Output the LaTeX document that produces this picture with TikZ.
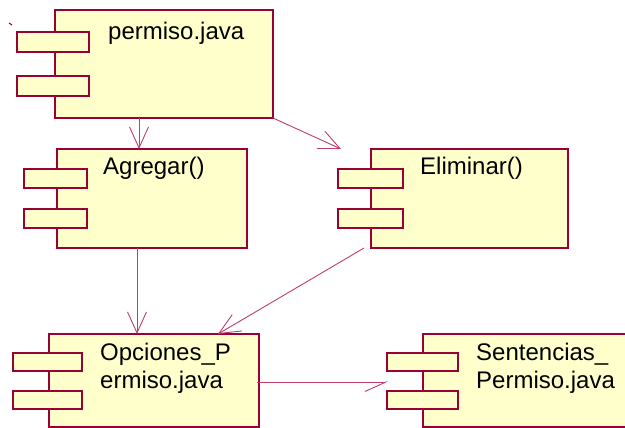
\documentclass[tikz,border=0pt]{standalone}
\usepackage{fontspec}
\setmainfont{Liberation Sans}
\usetikzlibrary{arrows.meta,positioning}
\definecolor{roseborder}{RGB}{153,0,51}
\definecolor{roseline}{RGB}{190,60,110}
\definecolor{rosefill}{RGB}{255,255,204}

\begin{document}
\begin{tikzpicture}[x=1pt, y=-1pt,
        comp/.style={rectangle, draw=roseborder, fill=rosefill, line width=1.6pt,
            inner sep=0pt, outer sep=0pt, anchor=north west},
        tab/.style={comp, minimum width=#1, minimum height=19pt},
        lbl/.style={font=\fontsize{24}{28}\selectfont, inner sep=0pt,
            anchor=base west, align=left},
        dep/.style={draw=roseline, line width=0.9pt,
            -{Straight Barb[length=21pt,width=19pt]}}
    ]
        \useasboundingbox (0,0) rectangle (625,428);
        \clip (0,0) rectangle (625,428);

        % permiso.java
        \node[comp, minimum width=218pt, minimum height=108pt] (permiso) at (55,10) {};
        \node[tab=72pt, minimum height=20pt] (permisoA) at (17,32) {};
        \node[tab=72pt, minimum height=20pt] (permisoB) at (17,76) {};
        \node[lbl] (permisoT) at (108,40) {permiso.java};
        \draw[roseborder, line width=1pt] (9,23) -- (12,25);

        % Agregar()
        \node[comp, minimum width=190pt, minimum height=99pt] (agregar) at (57,149) {};
        \node[tab=63pt] (agregarA) at (24,169) {};
        \node[tab=63pt] (agregarB) at (24,209) {};
        \node[lbl] (agregarT) at (103,175) {Agregar()};

        % Eliminar()
        \node[comp, minimum width=197pt, minimum height=99pt] (eliminar) at (371,149) {};
        \node[tab=65pt] (eliminarA) at (338,169) {};
        \node[tab=65pt] (eliminarB) at (338,209) {};
        \node[lbl] (eliminarT) at (420,175) {Eliminar()};

        % Opciones_Permiso.java
        \node[comp, minimum width=210pt, minimum height=93pt] (opciones) at (49,334) {};
        \node[tab=69pt, minimum height=18pt] (opcionesA) at (13,353) {};
        \node[tab=69pt, minimum height=18pt] (opcionesB) at (13,391) {};
        \node[lbl] (opcionesT) at (100,388) {Opciones\_P\\ermiso.java};

        % Sentencias_Permiso.java
        \node[comp, minimum width=220pt, minimum height=93pt] (sentencias) at (423,334) {};
        \node[tab=71pt, minimum height=18pt] (sentenciasA) at (387,353) {};
        \node[tab=71pt, minimum height=18pt] (sentenciasB) at (387,391) {};
        \node[lbl] (sentenciasT) at (476,388) {Sentencias\_\\Permiso.java};

        \draw[dep] ([xshift=84pt]permiso.south west) -- ([xshift=82pt]agregar.north west);
        \draw[dep] (permiso.south east) -- ([xshift=-30pt]eliminar.north west);
        \draw[dep] ([xshift=80pt]agregar.south west) -- ([xshift=88pt]opciones.north west);
        \draw[dep] ([xshift=-7pt]eliminar.south west) -- ([xshift=-41pt]opciones.north east);
        \draw[dep, -{Straight Barb[length=21pt,width=19pt,harpoon,swap]}]
            ([shift={(-2pt,-1.5pt)}]opciones.east) -- ([shift={(-35pt,-1.5pt)}]sentencias.west);
    \end{tikzpicture}
\end{document}
